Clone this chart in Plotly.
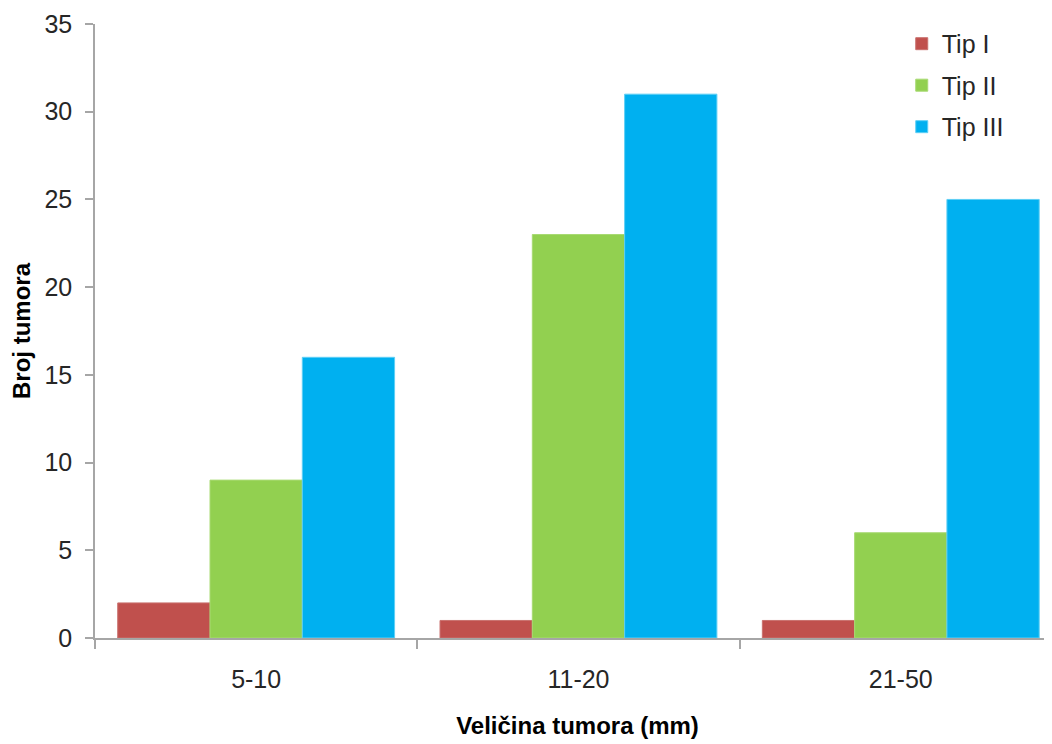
import plotly.graph_objects as go

categories = ["5-10", "11-20", "21-50"]
series_names = ["Tip I", "Tip II", "Tip III"]
tip1 = [2, 1, 1]
tip2 = [9, 23, 6]
tip3 = [16, 31, 25]
colors = ["#C0504D", "#92D050", "#00B0F0"]
edge_colors = ["#C9716E", "#A8DA73", "#5FCFF5"]
y_ticks = [0, 5, 10, 15, 20, 25, 30, 35]

FONT = "Liberation Sans Narrow, Arial Narrow, Liberation Sans, sans-serif"

fig = go.Figure()
for name, vals, c, ec in zip(series_names, [tip1, tip2, tip3], colors, edge_colors):
    fig.add_trace(go.Bar(x=categories, y=vals, name=name, legendgroup=name,
                         marker=dict(color=c, line=dict(color=ec, width=1))))

fig.update_layout(
    width=1052, height=744,
    margin=dict(l=87, r=0, t=16, b=114),
    paper_bgcolor="white", plot_bgcolor="white",
    barmode="group", bargap=0.141, bargroupgap=0,
    font=dict(family=FONT, size=25, color="#262626"),
    legend=dict(x=0.836, y=1.005, xanchor="left", yanchor="top",
                font=dict(family=FONT, size=25, color="#262626"),
                itemwidth=30, tracegroupgap=6, bgcolor="rgba(0,0,0,0)"),
    showlegend=True,
)
fig.update_xaxes(
    range=[-0.5, 2.494], showline=True, linecolor="#A6A6A6", linewidth=1.5,
    ticks="outside", tickson="boundaries", ticklen=9, tickcolor="#A6A6A6",
    tickwidth=1.5, showgrid=False, ticklabelstandoff=18,
    tickfont=dict(family=FONT, size=25, color="#262626"),
    title=dict(text="<b>Veličina tumora (mm)</b>", standoff=25,
               font=dict(family=FONT, size=24, color="black")),
)
fig.update_yaxes(
    range=[0, 35], tickvals=y_ticks, showline=True, linecolor="#A6A6A6",
    linewidth=1.5, ticks="outside", ticklen=8, tickcolor="#A6A6A6",
    tickwidth=1.5, showgrid=False, zeroline=False, ticklabelstandoff=8,
    tickfont=dict(family=FONT, size=25, color="#262626"),
    title=dict(text="<b>Broj tumora</b>", standoff=9,
               font=dict(family=FONT, size=24, color="black")),
)

fig.write_html("out.html")
